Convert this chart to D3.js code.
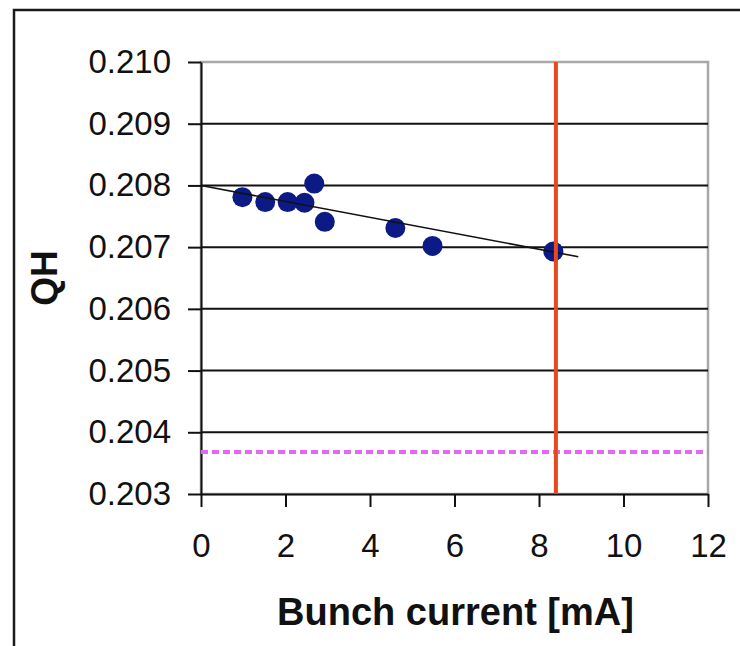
<!DOCTYPE html>
<html><head><meta charset="utf-8">
<script src="https://cdn.jsdelivr.net/npm/d3@7"></script>
<style>body{margin:0;background:#fff}svg{display:block}</style>
</head><body>
<script>
// ---- data ----
const xTicks = [0, 2, 4, 6, 8, 10, 12];
const yTicks = [0.203, 0.204, 0.205, 0.206, 0.207, 0.208, 0.209, 0.210];
const currentMA = [0.98, 1.52, 2.05, 2.45, 2.68, 2.93, 4.60, 5.48, 8.34];
const qh = [0.20781, 0.20773, 0.20773, 0.20772, 0.20803, 0.20741, 0.20731, 0.20702, 0.20693];
const trendX = [0, 8.93];
const trendY = [0.20800, 0.206845];
const thresholdCurrent = [8.4];
const resonanceQH = [0.20368];
const xTitle = "Bunch current [mA]";
const yTitle = "QH";

// ---- layout ----
const W = 740, H = 646;
const plot = {left: 201, right: 708, top: 62, bottom: 494};
const font = "'Liberation Sans', Arial, sans-serif";

const svg = d3.select("body").append("svg").attr("width", W).attr("height", H);

// outer chart border
svg.append("rect").attr("x", 14).attr("y", 10).attr("width", 900).attr("height", 800)
  .attr("fill", "none").attr("stroke", "#1a1a1a").attr("stroke-width", 2.5);

const x = d3.scaleLinear().domain([0, 12]).range([plot.left, plot.right]);
const y = d3.scaleLinear().domain([0.203, 0.210]).range([plot.bottom, plot.top]);

// plot area border (grey)
svg.append("rect").attr("x", plot.left).attr("y", plot.top)
  .attr("width", plot.right - plot.left).attr("height", plot.bottom - plot.top)
  .attr("fill", "none").attr("stroke", "#a8a8a8").attr("stroke-width", 2.5);

// horizontal gridlines
svg.append("g").selectAll("line").data(yTicks.filter(v => v < 0.2095 && v > 0.2035)).join("line")
  .attr("x1", plot.left).attr("x2", plot.right)
  .attr("y1", d => y(d)).attr("y2", d => y(d))
  .attr("stroke", "#111").attr("stroke-width", 2);

// axes
const yAxis = svg.append("g").attr("transform", `translate(${plot.left},0)`)
  .call(d3.axisLeft(y).tickValues(yTicks).tickFormat(d3.format(".3f")).tickSize(13).tickSizeOuter(0).tickPadding(17));
const xAxis = svg.append("g").attr("transform", `translate(0,${plot.bottom})`)
  .call(d3.axisBottom(x).tickValues(xTicks).tickFormat(d3.format("d")).tickSize(13).tickSizeOuter(0).tickPadding(27));
[yAxis, xAxis].forEach(a => {
  a.select(".domain").attr("stroke", "#111").attr("stroke-width", 2);
  a.selectAll(".tick line").attr("stroke", "#111").attr("stroke-width", 2);
  a.selectAll(".tick text").attr("font-family", font).attr("font-size", 33).attr("fill", "#111");
});

// data points
svg.append("g").selectAll("circle").data(currentMA.map((c, i) => [c, qh[i]])).join("circle")
  .attr("cx", d => x(d[0])).attr("cy", d => y(d[1])).attr("r", 10).attr("fill", "#0c1a86");

// trendline
svg.append("path").datum(trendX.map((v, i) => [v, trendY[i]]))
  .attr("d", d3.line().x(d => x(d[0])).y(d => y(d[1])))
  .attr("fill", "none").attr("stroke", "#111").attr("stroke-width", 1.6);

// resonance line (magenta dotted)
svg.append("g").selectAll("line").data(resonanceQH).join("line")
  .attr("x1", plot.left).attr("x2", plot.right)
  .attr("y1", d => y(d)).attr("y2", d => y(d))
  .attr("stroke", "#e466f2").attr("stroke-width", 4).attr("stroke-dasharray", "7,4");

// threshold line (red)
svg.append("g").selectAll("line").data(thresholdCurrent).join("line")
  .attr("x1", d => x(d)).attr("x2", d => x(d))
  .attr("y1", plot.top).attr("y2", plot.bottom)
  .attr("stroke", "#e8481c").attr("stroke-width", 4);

// titles
svg.append("text").attr("x", (plot.left + plot.right) / 2 + 1).attr("y", 625)
  .attr("text-anchor", "middle").attr("font-family", font).attr("font-weight", "bold")
  .attr("font-size", 38).attr("fill", "#111").text(xTitle);
svg.append("text").attr("transform", `translate(57,${(plot.top + plot.bottom) / 2}) rotate(-90)`)
  .attr("text-anchor", "middle").attr("font-family", font).attr("font-weight", "bold")
  .attr("font-size", 37).attr("fill", "#111").text(yTitle);
</script>
</body></html>
